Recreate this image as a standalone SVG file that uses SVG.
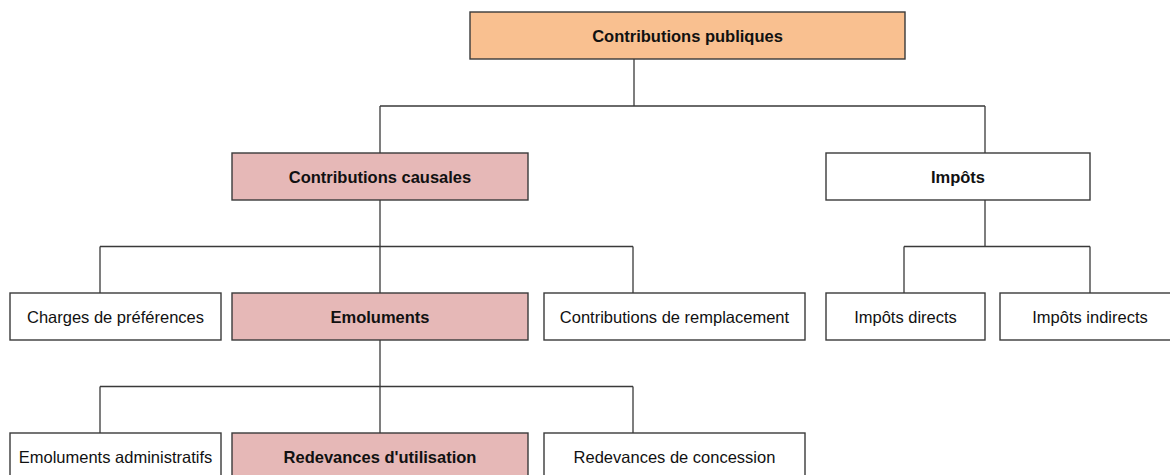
<svg xmlns="http://www.w3.org/2000/svg" width="1170" height="475" viewBox="0 0 1170 475">
<style>
.box{stroke:#3a3a3a;stroke-width:1.4;fill:#ffffff}
.peach{fill:#F9C090}
.pink{fill:#E6B8B7}
.t{font-family:"Liberation Sans",Arial,sans-serif;font-size:16.5px;fill:#111;text-anchor:middle}
.b{font-weight:bold}
.c{fill:none;stroke:#3a3a3a;stroke-width:1.3}
</style>
<rect width="1170" height="475" fill="#ffffff"/>
<g id="connectors">
<path class="c" d="M634 59V106M380 106H985M380 106V153M985 106V153"/>
<path class="c" d="M380 200V293M100 246.5H633M100 246.5V293M633 246.5V293"/>
<path class="c" d="M985 200V246.5M904 246.5H1090M904 246.5V293M1090 246.5V293"/>
<path class="c" d="M380 340V433M100 386.5H633M100 386.5V433M633 386.5V433"/>
</g>
<g id="n-contributions-publiques">
<rect class="box peach" x="470" y="12" width="435" height="47"/>
<text class="t b" x="687.5" y="41.5">Contributions publiques</text>
</g>
<g id="n-contributions-causales">
<rect class="box pink" x="232" y="153" width="296" height="47"/>
<text class="t b" x="380" y="182.5">Contributions causales</text>
</g>
<g id="n-impots">
<rect class="box" x="826" y="153" width="264" height="47"/>
<text class="t b" x="958" y="182.5">Impôts</text>
</g>
<g id="n-charges">
<rect class="box" x="10" y="293" width="211" height="47"/>
<text class="t" x="115.5" y="322.5">Charges de préférences</text>
</g>
<g id="n-emoluments">
<rect class="box pink" x="232" y="293" width="296" height="47"/>
<text class="t b" x="380" y="322.5">Emoluments</text>
</g>
<g id="n-remplacement">
<rect class="box" x="544" y="293" width="261" height="47"/>
<text class="t" x="674.5" y="322.5">Contributions de remplacement</text>
</g>
<g id="n-impots-directs">
<rect class="box" x="826" y="293" width="159" height="47"/>
<text class="t" x="905.5" y="322.5">Impôts directs</text>
</g>
<g id="n-impots-indirects">
<rect class="box" x="1000" y="293" width="175" height="47"/>
<text class="t" x="1090" y="322.5">Impôts indirects</text>
</g>
<g id="n-emoluments-admin">
<rect class="box" x="10" y="433" width="211" height="50"/>
<text class="t" x="115.5" y="462.5">Emoluments administratifs</text>
</g>
<g id="n-redevances-utilisation">
<rect class="box pink" x="232" y="433" width="296" height="50"/>
<text class="t b" x="380" y="462.5">Redevances d'utilisation</text>
</g>
<g id="n-redevances-concession">
<rect class="box" x="544" y="433" width="261" height="50"/>
<text class="t" x="674.5" y="462.5">Redevances de concession</text>
</g>
</svg>
